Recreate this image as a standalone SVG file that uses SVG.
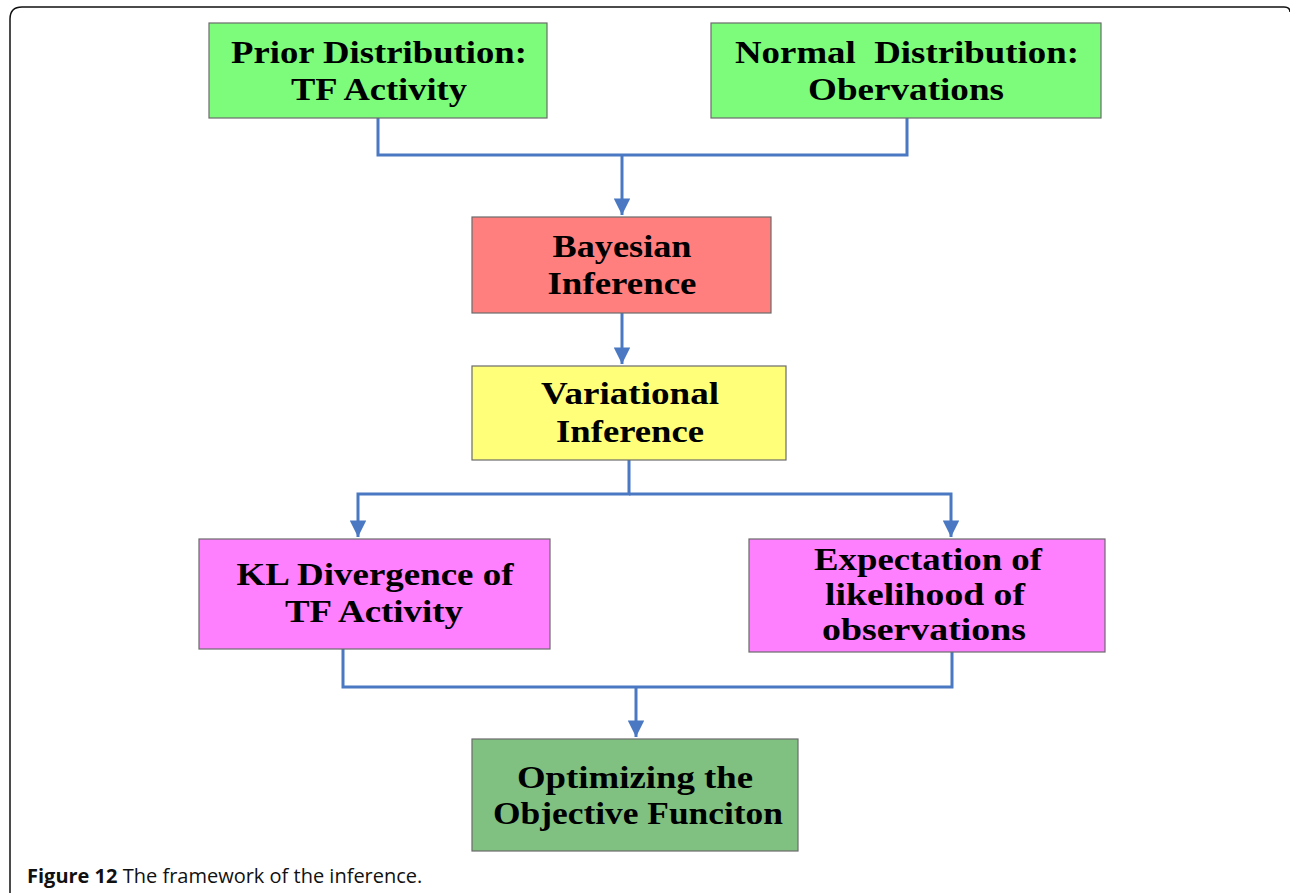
<svg xmlns="http://www.w3.org/2000/svg" width="1290" height="895" viewBox="0 0 1290 895">
<style>
.box{stroke:#6b6b6b;stroke-width:1.2}
.t{font-family:"Liberation Serif","Times New Roman",serif;font-weight:bold;font-size:32px;fill:#000;text-anchor:middle}
.c{fill:none;stroke:#4a78c2;stroke-width:3}
.cap{font-family:"Open Sans","Liberation Sans",sans-serif;font-size:20px;fill:#111}
</style>
<defs>
<marker id="ah" viewBox="0 0 10 10" refX="10" refY="5" markerWidth="6" markerHeight="5.5" markerUnits="strokeWidth" orient="auto">
<path d="M0,0 L10,5 L0,10 z" fill="#4a78c2"/>
</marker>
</defs>
<rect width="1290" height="895" fill="#fff"/>
<path d="M10,893 L10,19 Q10,7 22,7 L1284,7 Q1290,7 1290,12" fill="none" stroke="#111" stroke-width="1.5"/>
<g id="connectors">
<path class="c" d="M378,118 V155 H907 V118"/>
<path class="c" d="M622,155 V215" marker-end="url(#ah)"/>
<path class="c" d="M622,313 V364" marker-end="url(#ah)"/>
<path class="c" d="M629,460 V494 H358 V537" marker-end="url(#ah)"/>
<path class="c" d="M629,494 H951 V537" marker-end="url(#ah)"/>
<path class="c" d="M343,649 V687 H952 V652"/>
<path class="c" d="M636,687 V737" marker-end="url(#ah)"/>
</g>
<g id="prior">
<rect class="box" x="209" y="23" width="338" height="95" fill="#7cfc7a"/>
<text class="t" x="379" y="63" textLength="296" lengthAdjust="spacingAndGlyphs">Prior Distribution:</text>
<text class="t" x="379" y="100" textLength="176" lengthAdjust="spacingAndGlyphs">TF Activity</text>
</g>
<g id="normal">
<rect class="box" x="711" y="23" width="390" height="95" fill="#7cfc7a"/>
<text class="t" x="907" y="63" xml:space="preserve" textLength="344" lengthAdjust="spacingAndGlyphs">Normal  Distribution:</text>
<text class="t" x="906" y="100" textLength="196" lengthAdjust="spacingAndGlyphs">Obervations</text>
</g>
<g id="bayesian">
<rect class="box" x="472" y="217" width="299" height="96" fill="#ff7f7f"/>
<text class="t" x="622" y="257" textLength="139" lengthAdjust="spacingAndGlyphs">Bayesian</text>
<text class="t" x="622" y="294" textLength="149" lengthAdjust="spacingAndGlyphs">Inference</text>
</g>
<g id="variational">
<rect class="box" x="472" y="366" width="314" height="94" fill="#ffff7a"/>
<text class="t" x="630" y="404" textLength="178" lengthAdjust="spacingAndGlyphs">Variational</text>
<text class="t" x="630" y="442" textLength="148" lengthAdjust="spacingAndGlyphs">Inference</text>
</g>
<g id="kl">
<rect class="box" x="199" y="539" width="351" height="110" fill="#ff80ff"/>
<text class="t" x="375" y="585" textLength="277" lengthAdjust="spacingAndGlyphs">KL Divergence of</text>
<text class="t" x="374" y="622" textLength="178" lengthAdjust="spacingAndGlyphs">TF Activity</text>
</g>
<g id="expectation">
<rect class="box" x="749" y="539" width="356" height="113" fill="#ff80ff"/>
<text class="t" x="928" y="570" textLength="228" lengthAdjust="spacingAndGlyphs">Expectation of</text>
<text class="t" x="925" y="605" textLength="200" lengthAdjust="spacingAndGlyphs">likelihood of</text>
<text class="t" x="924" y="640" textLength="204" lengthAdjust="spacingAndGlyphs">observations</text>
</g>
<g id="optimizing">
<rect class="box" x="472" y="739" width="326" height="112" fill="#80c080"/>
<text class="t" x="635" y="788" textLength="236" lengthAdjust="spacingAndGlyphs">Optimizing the</text>
<text class="t" x="638" y="824" textLength="290" lengthAdjust="spacingAndGlyphs">Objective Funciton</text>
</g>
<text class="cap" x="27" y="883"><tspan font-weight="bold">Figure 12</tspan> The framework of the inference.</text>
</svg>
